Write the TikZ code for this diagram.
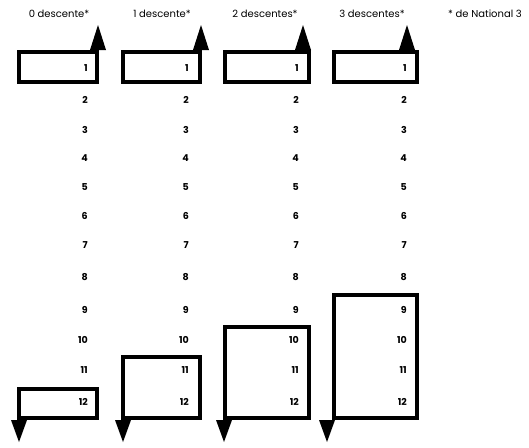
\documentclass[tikz,border=0pt]{standalone}
\usepackage{fontspec}
\setmainfont{Poppins}
\begin{document}
\begin{tikzpicture}[x=1pt,y=-1pt,
  boxline/.style={line width=4pt,line join=miter},
  num/.style={anchor=east,inner sep=0pt,font=\bfseries\fontsize{9.5}{10}\selectfont},
  head/.style={inner sep=0pt,font=\fontsize{10}{12}\selectfont},
  tip/.style={fill=black}]
\useasboundingbox (0,0) rectangle (529,447);
% headings
\node[head] (h0) at (59,14) {0 descente*};
\node[head] (h1) at (162,14) {1 descente*};
\node[head] (h2) at (265,14) {2 descentes*};
\node[head] (h3) at (372,14) {3 descentes*};
\node[head] (note) at (485,14) {* de National 3};
% numbers
\foreach \c/\xr in {0/88,1/189,2/299,3/407}{
  \foreach \n/\yy in {1/68,2/100,3/130,4/158,5/187,6/216,7/245,8/277,9/310,10/340,11/370,12/402}{
    \node[num] (n\c-\n) at (\xr,\yy) {\n};
  }
}
% boxes: left, right, bottom-box top, up-arrow offset, down-arrow offset
\foreach \c/\xl/\xr/\yt/\uo/\do in {0/19/97/389/1/0,1/123/200/357/1/0,2/225/309/327/-6/-1,3/334/417/295/-10/-7}{
  \coordinate (tl\c) at (\xl,52);
  \coordinate (br\c) at (\xr,82);
  \coordinate (bl\c) at (\xl,\yt);
  \coordinate (bb\c) at (\xr,418);
  \draw[boxline] (tl\c) rectangle (br\c);
  \draw[boxline] (bl\c) rectangle (bb\c);
  % up arrow
  \coordinate (ua\c) at (\xr+\uo,50);
  \fill[tip] (ua\c) ++(-8,0) -- ++(16,0) -- ++(-8,-25) -- cycle;
  % down arrow
  \coordinate (da\c) at (\xl+\do,420);
  \fill[tip] (da\c) ++(-8,0) -- ++(16,0) -- ++(-8,22) -- cycle;
}
\end{tikzpicture}
\end{document}
